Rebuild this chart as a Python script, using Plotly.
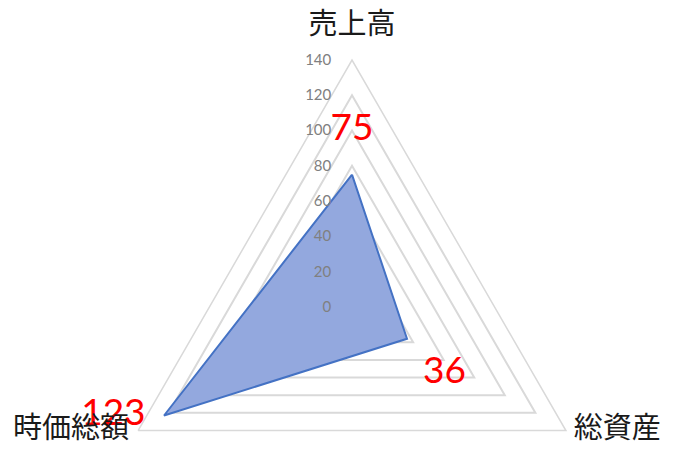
import plotly.graph_objects as go

categories = ["売上高", "総資産", "時価総額"]
values = [75, 36, 123]
radial_ticks = [0, 20, 40, 60, 80, 100, 120, 140]

W, H = 684, 560
# page body has an 8px margin, so the polar centre is placed 8px up/left
cx, cy, R = 344, 299, 247
r_max = radial_ticks[-1]

theta = categories + categories[:1]
r = values + values[:1]

fig = go.Figure()
# filled radar polygon
fig.add_trace(go.Scatterpolar(
    r=r, theta=theta,
    mode="lines",
    fill="toself",
    fillcolor="#93A8DE",
    line=dict(color="#4472C4", width=2),
    hoverinfo="skip",
))
# data labels (invisible markers only set the label offset)
fig.add_trace(go.Scatterpolar(
    r=values, theta=categories,
    mode="markers+text",
    marker=dict(size=[39, 24, 28], opacity=0),
    text=[str(v) for v in values],
    textposition=["top center", "bottom right", "middle left"],
    textfont=dict(family="Lato, Noto Sans", size=37, color="#FF0000"),
    cliponaxis=False,
    hoverinfo="skip",
))
# category labels at the outer ring
fig.add_trace(go.Scatterpolar(
    r=[r_max] * len(categories), theta=categories,
    mode="markers+text",
    marker=dict(size=[29, 11, 13], opacity=0),
    text=categories,
    textposition=["top center", "middle right", "middle left"],
    textfont=dict(family="Noto Sans CJK JP", size=29, color="#1A1A1A"),
    cliponaxis=False,
    hoverinfo="skip",
))

fig.update_layout(
    width=W, height=H,
    margin=dict(l=0, r=0, t=0, b=0),
    paper_bgcolor="white",
    showlegend=False,
    polar=dict(
        domain=dict(x=[(cx - R) / W, (cx + R) / W],
                    y=[(H - cy - R) / H, (H - cy + R) / H]),
        bgcolor="white",
        gridshape="linear",
        radialaxis=dict(
            range=[0, r_max], tickvals=radial_ticks,
            ticktext=[str(t) for t in radial_ticks],
            angle=90, side="counterclockwise", tickangle=90,
            showline=False, ticks="outside", ticklen=15,
            tickcolor="rgba(0,0,0,0)",
            gridcolor="#D9D9D9", gridwidth=1.5,
            tickfont=dict(family="Lato, Noto Sans", size=15, color="#808080"),
        ),
        angularaxis=dict(
            rotation=90, direction="clockwise",
            showgrid=False, showline=True, linecolor="#D9D9D9", linewidth=1.5,
            showticklabels=False, ticks="",
        ),
    ),
)

fig.write_html("out.html")
